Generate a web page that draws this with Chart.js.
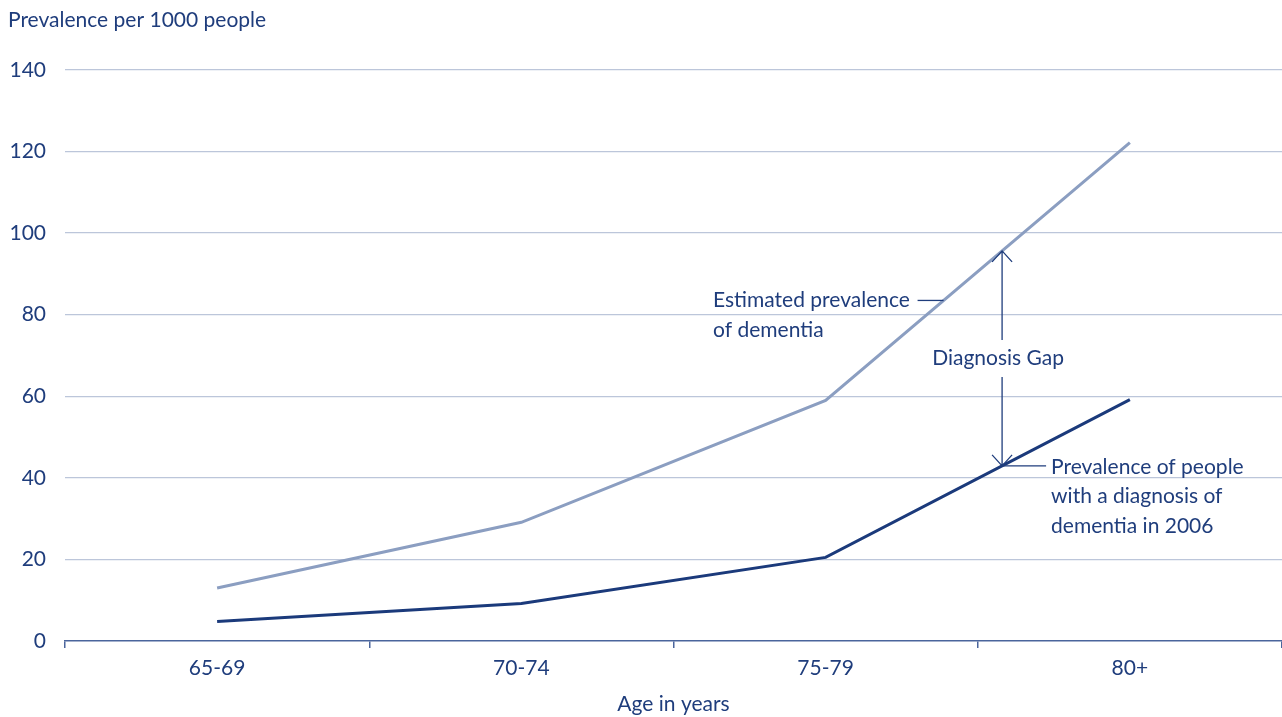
<!DOCTYPE html>
<html>
<head>
<meta charset="utf-8">
<script src="https://cdn.jsdelivr.net/npm/chart.js@4/dist/chart.umd.min.js"></script>
<style>
  html, body { margin: 0; padding: 0; background: #ffffff; }
  #wrap { width: 1282px; height: 717px; position: relative; }
</style>
</head>
<body>
<div id="wrap"><canvas id="chart"></canvas></div>
<script>
// Age bands and prevalence per 1000 people
const ageGroups = ['65-69', '70-74', '75-79', '80+'];
const estimatedPrevalence = [13, 29.1, 59, 122.2];
const diagnosedPrevalence = [4.8, 9.2, 20.5, 59.2];
const yTicks = [0, 20, 40, 60, 80, 100, 120, 140];

const yTitle = 'Prevalence per 1000 people';
const xTitle = 'Age in years';
const estimatedLabel = ['Estimated prevalence', 'of dementia'];
const diagnosedLabel = ['Prevalence of people', 'with a diagnosis of', 'dementia in 2006'];
const gapLabel = 'Diagnosis Gap';

const NAVY = '#1f3d7c';
const LIGHT_LINE = '#8b9ec1';
const DARK_LINE = '#1b3a7b';
const GRID = '#bcc6da';
const AXIS = '#4a659c';
const FONT = 'Lato, "Open Sans", sans-serif';
const FS = 21;

// linear interpolation of a series at a fractional category index
function seriesAt(arr, idx) {
  const i = Math.min(Math.floor(idx), arr.length - 2);
  const t = idx - i;
  return arr[i] + (arr[i + 1] - arr[i]) * t;
}

const annotations = {
  id: 'annotations',
  afterDatasetsDraw(chart) {
    const { ctx, scales: { x, y } } = chart;
    ctx.save();
    ctx.fillStyle = NAVY;
    ctx.strokeStyle = NAVY;
    ctx.lineWidth = 1.3;
    ctx.font = FS + 'px ' + FONT;
    ctx.textBaseline = 'middle';

    // y-axis title
    ctx.textAlign = 'left';
    ctx.fillText(yTitle, 8, 20);

    // diagnosis gap arrow
    const gapIdx = 2.58;
    const ax = x.getPixelForValue(gapIdx);
    const yTop = y.getPixelForValue(seriesAt(estimatedPrevalence, gapIdx));
    const yBot = y.getPixelForValue(seriesAt(diagnosedPrevalence, gapIdx));
    const labelY = y.getPixelForValue(69.4);
    ctx.beginPath();
    ctx.moveTo(ax, yTop); ctx.lineTo(ax, labelY - 18);
    ctx.moveTo(ax, labelY + 19); ctx.lineTo(ax, yBot);
    // open arrow heads
    ctx.moveTo(ax - 10, yTop + 11); ctx.lineTo(ax, yTop); ctx.lineTo(ax + 10, yTop + 11);
    ctx.moveTo(ax - 10, yBot - 11); ctx.lineTo(ax, yBot); ctx.lineTo(ax + 10, yBot - 11);
    ctx.stroke();
    ctx.textAlign = 'center';
    ctx.fillText(gapLabel, ax - 4, labelY);

    // estimated prevalence label with leader
    const estY = 83.5;
    const estTextX = x.getPixelForValue(1.63);
    const estPy = y.getPixelForValue(estY);
    ctx.textAlign = 'left';
    estimatedLabel.forEach((t, i) => ctx.fillText(t, estTextX, estPy + i * 30));
    const tEst = (estY - estimatedPrevalence[2]) / (estimatedPrevalence[3] - estimatedPrevalence[2]);
    const estHit = x.getPixelForValue(2 + tEst);
    ctx.beginPath();
    ctx.moveTo(estHit - 26, estPy); ctx.lineTo(estHit, estPy);
    ctx.stroke();

    // diagnosed prevalence label with leader
    const dTextX = ax + 49;
    diagnosedLabel.forEach((t, i) => ctx.fillText(t, dTextX, yBot + 1 + i * 29.5));
    ctx.beginPath();
    ctx.moveTo(ax, yBot); ctx.lineTo(ax + 44, yBot);
    ctx.stroke();

    ctx.restore();
  }
};

new Chart(document.getElementById('chart'), {
  type: 'line',
  data: {
    labels: ageGroups,
    datasets: [
      {
        label: 'Estimated prevalence of dementia',
        data: estimatedPrevalence,
        borderColor: LIGHT_LINE,
        borderWidth: 3,
        pointRadius: 0,
        tension: 0,
        fill: false
      },
      {
        label: 'Prevalence of people with a diagnosis of dementia in 2006',
        data: diagnosedPrevalence,
        borderColor: DARK_LINE,
        borderWidth: 3,
        pointRadius: 0,
        tension: 0,
        fill: false
      }
    ]
  },
  options: {
    responsive: true,
    maintainAspectRatio: false,
    animation: false,
    layout: { padding: { top: 70, right: 0, bottom: 0, left: 0 } },
    plugins: {
      legend: { display: false },
      tooltip: { enabled: false }
    },
    scales: {
      x: {
        type: 'category',
        offset: true,
        afterFit(scale) { scale.height = 76; },
        grid: {
          offset: true,
          drawOnChartArea: false,
          drawTicks: true,
          tickLength: 7,
          color: AXIS,
          lineWidth: 1.5
        },
        border: { display: true, color: AXIS, width: 1.5 },
        ticks: {
          color: NAVY,
          font: { family: FONT, size: FS },
          padding: 8,
          maxRotation: 0
        },
        title: {
          display: true,
          text: xTitle,
          color: NAVY,
          font: { family: FONT, size: FS },
          padding: { top: 0, bottom: 0 }
        }
      },
      y: {
        min: 0,
        max: 140,
        afterFit(scale) { scale.width = 65; },
        afterBuildTicks(scale) { scale.ticks = yTicks.map(v => ({ value: v })); },
        grid: {
          drawTicks: false,
          color: (c) => c.tick && c.tick.value === 0 ? 'rgba(0,0,0,0)' : GRID,
          lineWidth: 1.3
        },
        border: { display: false },
        ticks: {
          color: NAVY,
          font: { family: FONT, size: FS },
          padding: 19
        }
      }
    }
  },
  plugins: [annotations]
});
</script>
</body>
</html>
